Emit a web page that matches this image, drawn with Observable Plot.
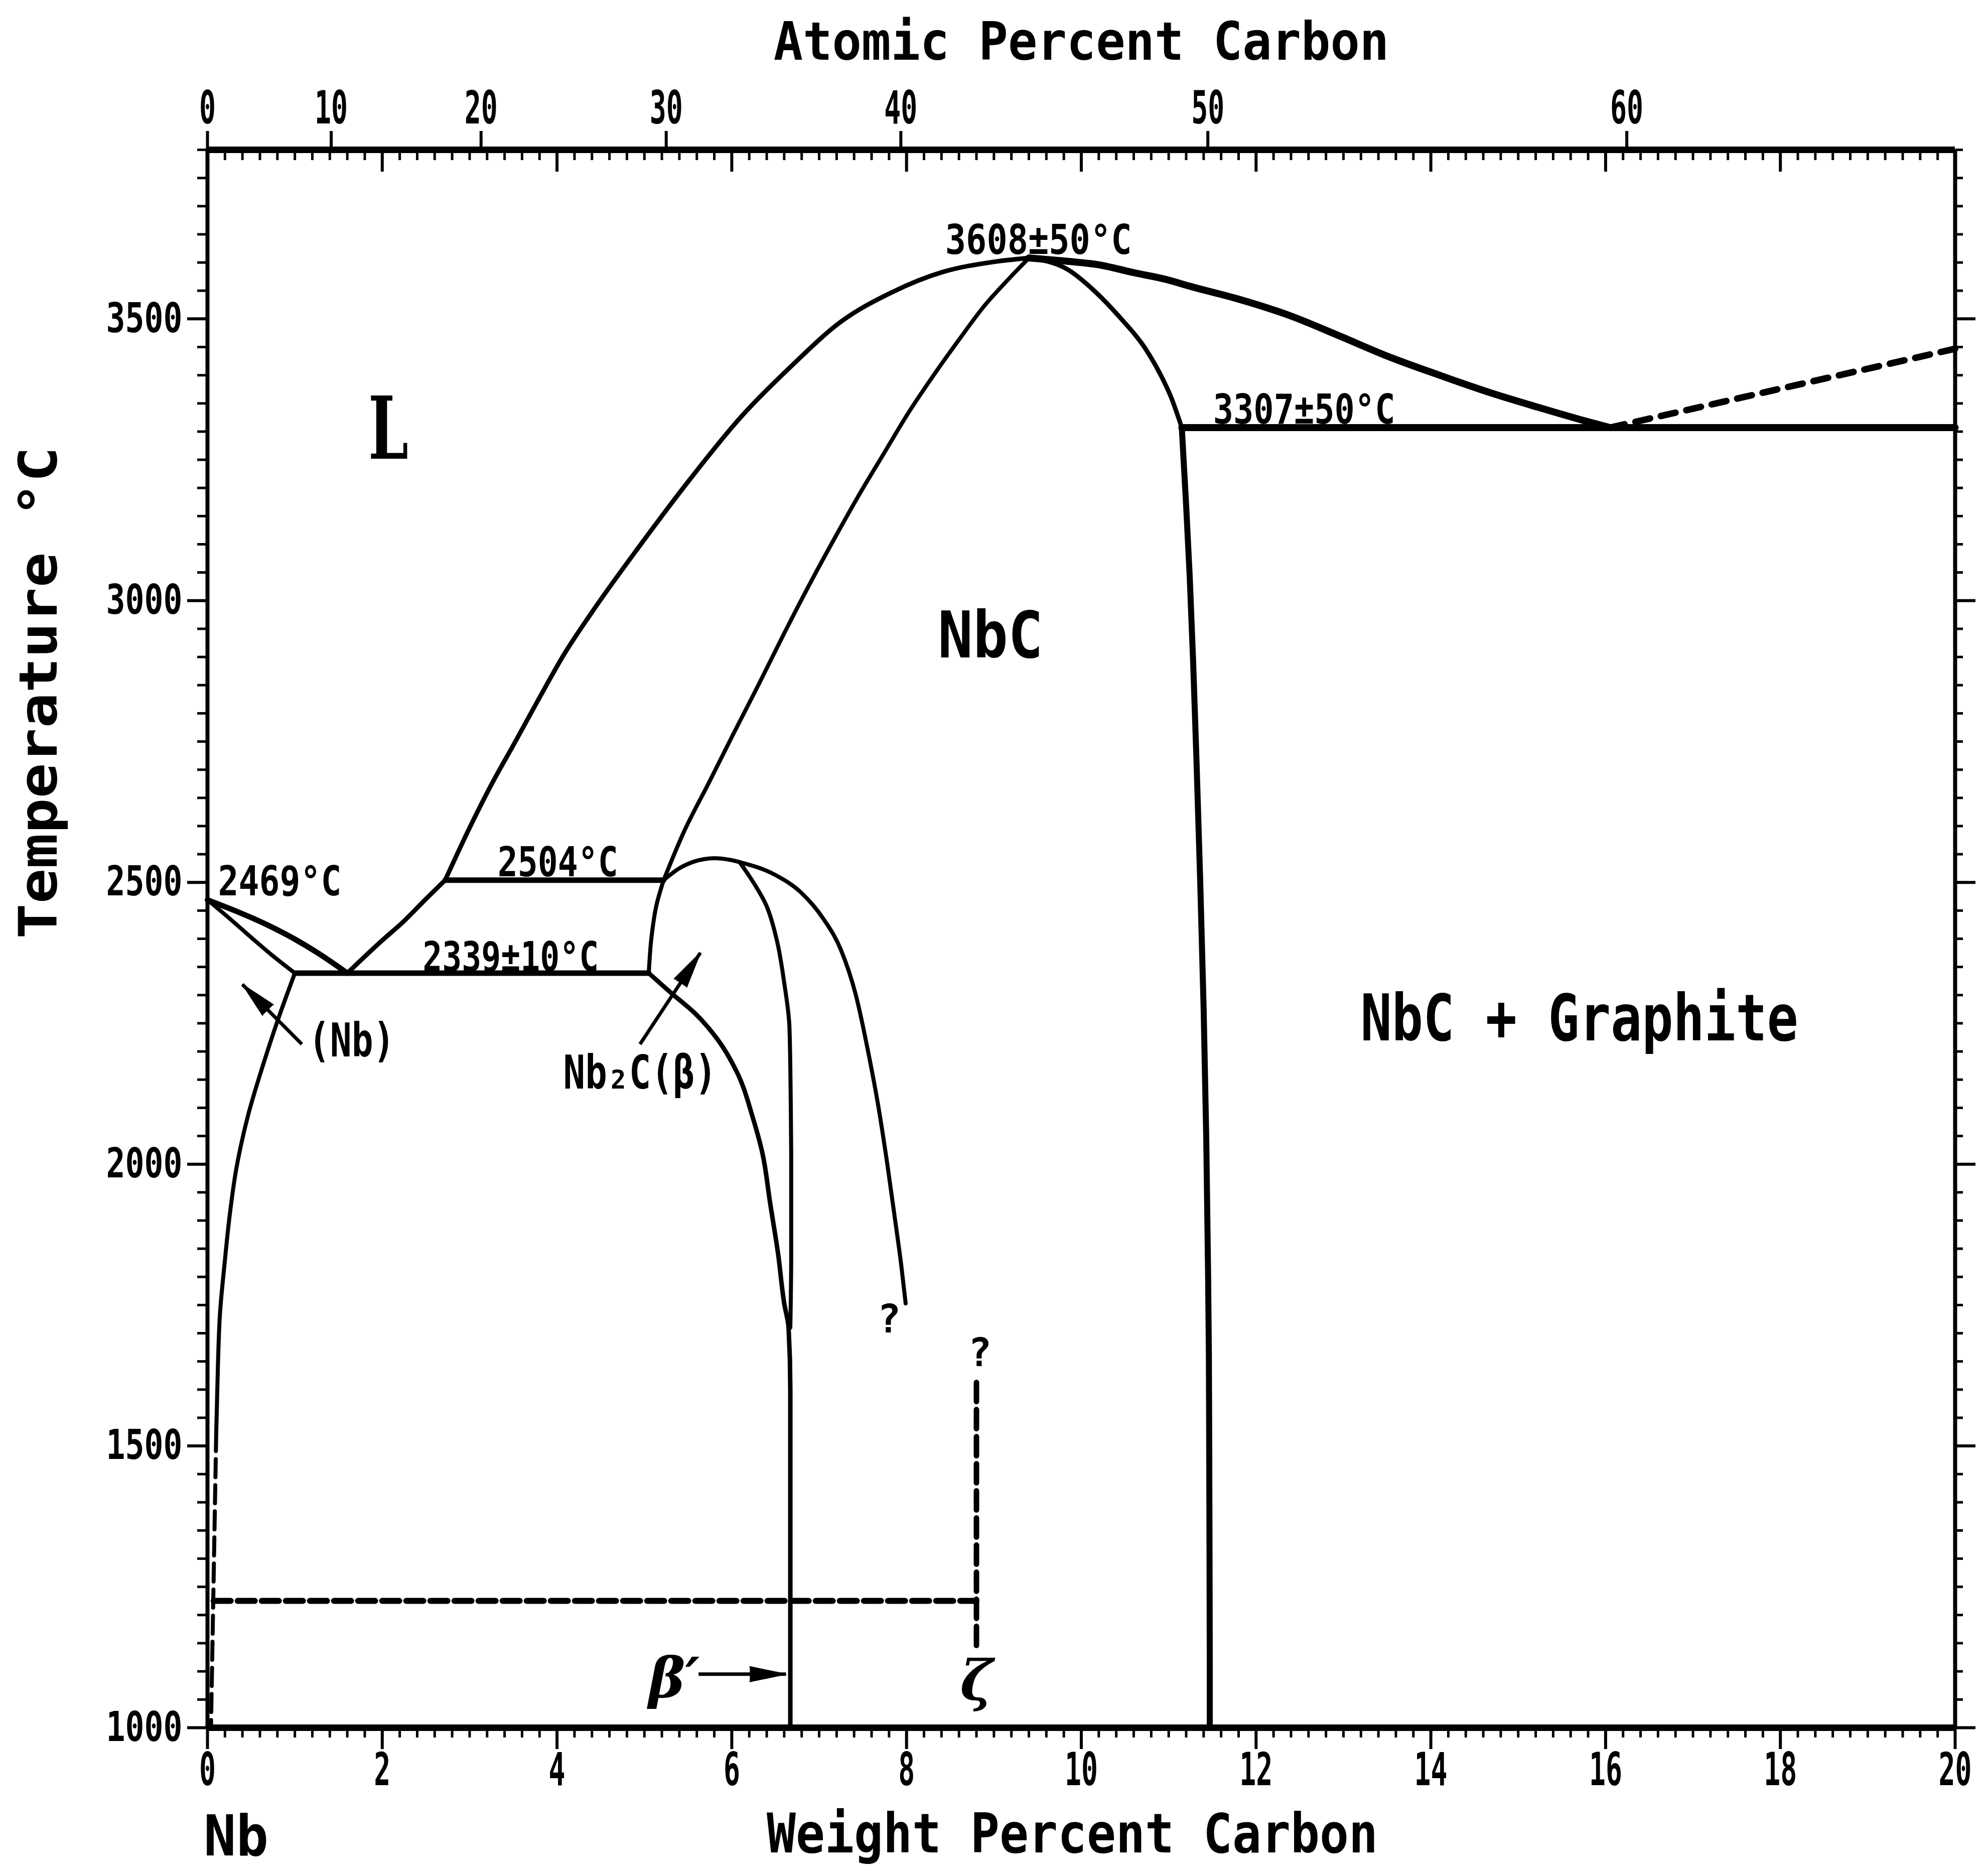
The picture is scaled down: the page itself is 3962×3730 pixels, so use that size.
<!DOCTYPE html>
<html>
<head>
<meta charset="utf-8">
<script src="https://cdn.jsdelivr.net/npm/d3@7"></script>
<script src="https://cdn.jsdelivr.net/npm/@observablehq/plot@0.6"></script>
<style>
  body { margin: 0; background: #fff; }
  svg { display: block; }
</style>
</head>
<body>
<div id="chart"></div>
<script>
// Nb–C phase diagram: weight percent carbon (x) against temperature in °C (y).
// Each boundary is a list of [wt% C, °C] points.

const nbLiquidus = [[0, 2469], [0.39, 2445], [0.68, 2425], [0.98, 2401], [1.27, 2374], [1.6, 2339]];
const nbSolidus = [[0, 2469], [0.275, 2433], [0.51, 2401], [0.745, 2370], [1.0, 2339]];
const nbSolvus = [[1.0, 2339], [0.81, 2258], [0.64, 2178], [0.47, 2090], [0.33, 1992], [0.25, 1904],
  [0.196, 1824], [0.143, 1735], [0.12, 1646], [0.1, 1523]];
const nbSolvusDashed = [[0.1, 1523], [0.04, 1000]];
const eutecticLow = [[1.0, 2339], [5.05, 2339]];
const peritectic = [[2.72, 2504], [5.22, 2504]];
const liquidusLow = [[1.6, 2339], [1.97, 2393], [2.26, 2433], [2.49, 2469], [2.72, 2504]];
const liquidusLeft = [[2.72, 2504], [3.0, 2597], [3.23, 2668], [3.52, 2749], [3.8, 2828], [4.09, 2907],
  [4.38, 2975], [4.95, 3098], [5.53, 3217], [6.1, 3325], [6.68, 3416], [7.25, 3495], [7.83, 3547],
  [8.41, 3583], [8.99, 3601], [9.4, 3608]];
const liquidusRight = [[9.4, 3608], [9.85, 3602], [10.2, 3596], [10.6, 3582], [10.97, 3570], [11.24, 3558],
  [11.8, 3535], [12.4, 3505], [12.95, 3470], [13.5, 3434], [14.1, 3400], [14.66, 3370], [15.23, 3343],
  [15.74, 3320], [16.05, 3307]];
const liquidusGraphite = [[16.05, 3307], [20, 3447]];
const eutecticHigh = [[11.15, 3307], [20, 3307]];
const nbcSolidusLeft = [[5.22, 2504], [5.45, 2589], [5.735, 2676], [6.02, 2764], [6.31, 2852], [6.59, 2939],
  [6.88, 3026], [7.16, 3106], [7.45, 3186], [7.74, 3261], [8.02, 3333], [8.31, 3400], [8.6, 3463],
  [8.89, 3523], [9.17, 3571], [9.4, 3608]];
const nbcSolidusRight = [[9.4, 3608], [9.85, 3587], [10.14, 3551], [10.44, 3503], [10.73, 3448],
  [10.91, 3400], [11.03, 3360], [11.15, 3307]];
const nbcBoundary = [[11.15, 3307], [11.2, 3168], [11.24, 3045], [11.28, 2891], [11.32, 2707], [11.36, 2506],
  [11.4, 2276], [11.43, 2045], [11.45, 1815], [11.46, 1661], [11.465, 1430], [11.47, 1123], [11.47, 1000]];
const betaLeft = [[5.05, 2339], [5.08, 2401], [5.14, 2461], [5.22, 2504]];
const betaDome = [[5.22, 2504], [5.4, 2525], [5.57, 2537], [5.8, 2543], [5.98, 2540], [6.09, 2536],
  [6.5, 2513], [6.8, 2481], [7.05, 2435], [7.25, 2380], [7.42, 2300], [7.56, 2200], [7.68, 2100],
  [7.78, 2000], [7.87, 1900], [7.94, 1820], [7.99, 1753]];
const betaInner = [[6.09, 2536], [6.21, 2509], [6.39, 2461], [6.51, 2401], [6.6, 2322], [6.66, 2243],
  [6.675, 2107], [6.68, 2020], [6.68, 1841], [6.67, 1710]];
const betaSolvus = [[5.05, 2339], [5.29, 2306], [5.59, 2266], [5.83, 2223], [6.06, 2163], [6.24, 2083],
  [6.35, 2020], [6.44, 1930], [6.53, 1841], [6.6, 1753], [6.65, 1710], [6.67, 1600], [6.67, 1000]];
const transition1225 = [[0.07, 1225], [8.8, 1225]];
const zetaBoundary = [[8.8, 1146], [8.8, 1620]];

// Annotations
const tempLabels = [
  {text: "2504°C", x: 4.01, y: 2511},
  {text: "2339±10°C", x: 3.47, y: 2343},
  {text: "3608±50°C", x: 9.51, y: 3615},
  {text: "3307±50°C", x: 12.55, y: 3314}
];
const nbMeltLabel = [{text: "2469°C", x: 0.12, y: 2477}];
const phaseLabels = [
  {text: "NbC", x: 8.96, y: 2899},
  {text: "NbC + Graphite", x: 15.7, y: 2220}
];
const smallPhaseLabels = [
  {text: "(Nb)", x: 1.65, y: 2191},
  {text: "Nb₂C(β)", x: 4.95, y: 2134}
];
const liquidLabel = [{text: "L", x: 2.07, y: 3252}];
const greekLabels = [
  {text: "β′", x: 5.34, y: 1085},
  {text: "ζ", x: 8.8, y: 1081}
];
const queryLabels = [
  {text: "?", x: 7.8, y: 1724},
  {text: "?", x: 8.84, y: 1664}
];
const arrows = [
  {x1: 1.08, y1: 2213, x2: 0.40, y2: 2319},
  {x1: 4.95, y1: 2213, x2: 5.64, y2: 2375},
  {x1: 5.62, y1: 1095, x2: 6.62, y2: 1095}
];

// Axes
const wtDomain = [0, 20];
const tempDomain = [1000, 3800];
const wtTicks = [0, 2, 4, 6, 8, 10, 12, 14, 16, 18, 20];
const wtMinorStep = 0.2;
const tempTicks = [1000, 1500, 2000, 2500, 3000, 3500];
const tempMinorStep = 50;
const atomicTicks = [0, 10, 20, 30, 40, 50, 60];
const massC = 12.011, massNb = 92.906;
const atToWt = a => 100 * a * massC / (a * massC + (100 - a) * massNb);

const wtMinor = d3.range(0, 20 + 1e-9, wtMinorStep);
const tempMinor = d3.range(1000, 3800 + 1e-9, tempMinorStep);
const atomicPos = atomicTicks.map(atToWt);
const atomicLabel = new Map(atomicPos.map((p, i) => [p, String(atomicTicks[i])]));

// Page layout
const W = 3962, H = 3730;
const margin = {left: 413, right: 66, top: 298, bottom: 288};
const kx = (W - margin.left - margin.right) / (wtDomain[1] - wtDomain[0]);
const ky = (H - margin.top - margin.bottom) / (tempDomain[1] - tempDomain[0]);
// on-screen heading of an arrow, degrees clockwise from up
const heading = d => Math.atan2((d.x2 - d.x1) * kx, (d.y2 - d.y1) * ky) * 180 / Math.PI;

const mono = "'DejaVu Sans Mono', 'Liberation Mono', monospace";
const serif = "'DejaVu Serif', 'Liberation Serif', serif";
const X = d => d[0], Y = d => d[1];
const blank = () => "";

function curve(data, width, shape, extra = {}) {
  return Plot.line(data, {x: X, y: Y, stroke: "black", strokeWidth: width, curve: shape,
    strokeLinejoin: "round", strokeLinecap: "round", ...extra});
}
function straight(data, width, extra = {}) {
  return Plot.line(data, {x: X, y: Y, stroke: "black", strokeWidth: width, curve: "linear", ...extra});
}

const plot = Plot.plot({
  width: W,
  height: H,
  marginLeft: margin.left,
  marginRight: margin.right,
  marginTop: margin.top,
  marginBottom: margin.bottom,
  x: {domain: wtDomain},
  y: {domain: tempDomain},
  style: {background: "white", color: "black", fontFamily: mono, fontSize: "90px", fontWeight: "bold", overflow: "visible"},
  marks: [
    // phase boundaries
    curve(nbLiquidus, 11, "monotone-x"),
    curve(nbSolidus, 8, "monotone-x"),
    curve(nbSolvus, 8, "monotone-y"),
    straight(nbSolvusDashed, 8, {strokeDasharray: "36,16"}),
    straight(eutecticLow, 11),
    straight(peritectic, 11),
    curve(liquidusLow, 9, "monotone-x"),
    curve(liquidusLeft, 9, "monotone-x"),
    curve(liquidusRight, 14, "monotone-x"),
    straight(liquidusGraphite, 13, {strokeDasharray: "30,22"}),
    straight(eutecticHigh, 14),
    curve(nbcSolidusLeft, 8, "monotone-x"),
    curve(nbcSolidusRight, 9, "monotone-x"),
    curve(nbcBoundary, 12, "monotone-y"),
    curve(betaLeft, 8, "monotone-y"),
    curve(betaDome, 8, "monotone-x"),
    curve(betaInner, 8, "monotone-y"),
    curve(betaSolvus, 9, "monotone-y"),
    straight(transition1225, 12, {strokeDasharray: "34,14"}),
    straight(zetaBoundary, 11, {strokeDasharray: "38,16"}),

    // frame
    Plot.ruleY(tempDomain, {strokeWidth: 13}),
    Plot.ruleX(wtDomain, {strokeWidth: 8}),

    // bottom axis: weight percent
    Plot.axisX({anchor: "bottom", ticks: wtTicks, tickSize: 43, tickPadding: 8, strokeWidth: 6, label: null, fontSize: 90}),
    Plot.axisX({anchor: "bottom", ticks: wtMinor, tickSize: 20, strokeWidth: 5, tickFormat: blank, label: null}),
    // top axis: atomic percent outside, weight percent ticks inside
    Plot.axisX({anchor: "top", ticks: atomicPos, tickFormat: d => atomicLabel.get(d), tickSize: 38, tickPadding: 15,
      strokeWidth: 6, label: null, fontSize: 90}),
    Plot.axisX({anchor: "top", ticks: wtTicks, tickSize: -43, strokeWidth: 6, tickFormat: blank, label: null}),
    Plot.axisX({anchor: "top", ticks: wtMinor, tickSize: -20, strokeWidth: 5, tickFormat: blank, label: null}),
    // left and right temperature axes
    Plot.axisY({anchor: "left", ticks: tempTicks, tickSize: 40, tickPadding: 10, strokeWidth: 6, label: null,
      tickFormat: d => String(d), fontSize: 82}),
    Plot.axisY({anchor: "left", ticks: tempMinor, tickSize: 20, strokeWidth: 5, tickFormat: blank, label: null}),
    Plot.axisY({anchor: "right", ticks: tempTicks, tickSize: 40, strokeWidth: 6, tickFormat: blank, label: null}),
    Plot.axisY({anchor: "right", ticks: tempMinor, tickSize: 15, strokeWidth: 5, tickFormat: blank, label: null}),

    // axis titles
    Plot.text(["Atomic Percent Carbon"], {frameAnchor: "top", dy: -180, lineAnchor: "bottom", fontSize: 105}),
    Plot.text(["Weight Percent Carbon"], {frameAnchor: "bottom", dx: -18, dy: 248, lineAnchor: "bottom", fontSize: 108}),
    Plot.text(["Nb"], {frameAnchor: "bottom-left", dx: 57, dy: 254, lineAnchor: "bottom", textAnchor: "middle", fontSize: 112}),
    Plot.text(["Temperature °C"], {frameAnchor: "left", dx: -301, rotate: -90, lineAnchor: "bottom", fontSize: 105}),

    // annotation arrows: shaft plus a solid head
    Plot.link(arrows, {x1: "x1", y1: "y1", x2: "x2", y2: "y2", strokeWidth: 7}),
    Plot.vector(arrows, {x: "x2", y: "y2", rotate: heading, length: 72, anchor: "end", shape: "spike", r: 15,
      fill: "black", fillOpacity: 1, stroke: "black", strokeWidth: 2}),

    // annotation text
    Plot.text(tempLabels, {x: "x", y: "y", text: "text", lineAnchor: "bottom", textAnchor: "middle", fontSize: 82}),
    Plot.text(nbMeltLabel, {x: "x", y: "y", text: "text", lineAnchor: "bottom", textAnchor: "start", fontSize: 82}),
    Plot.text(phaseLabels, {x: "x", y: "y", text: "text", lineAnchor: "bottom", textAnchor: "middle", fontSize: 128}),
    Plot.text(smallPhaseLabels, {x: "x", y: "y", text: "text", lineAnchor: "bottom", textAnchor: "middle", fontSize: 92}),
    Plot.text(liquidLabel, {x: "x", y: "y", text: "text", lineAnchor: "bottom", textAnchor: "middle", fontSize: 172,
      fontFamily: serif, fontWeight: "bold"}),
    Plot.text(greekLabels, {x: "x", y: "y", text: "text", lineAnchor: "middle", textAnchor: "middle", fontSize: 110,
      fontFamily: serif, fontStyle: "italic", fontWeight: "bold"}),
    Plot.text(queryLabels, {x: "x", y: "y", text: "text", lineAnchor: "middle", textAnchor: "middle", fontSize: 78})
  ]
});

document.getElementById("chart").append(plot);

// Typewriter lettering is narrower than the screen font: fit each string to its advance width.
const labelAdvance = new Map([
  ["Atomic Percent Carbon", 58.4], ["Weight Percent Carbon", 58], ["Temperature °C", 70], ["Nb", 64.5],
  ["2469°C", 41], ["2504°C", 40], ["2339±10°C", 39], ["3608±50°C", 41.3], ["3307±50°C", 40.3],
  ["NbC", 70], ["NbC + Graphite", 62.3], ["(Nb)", 43], ["Nb₂C(β)", 43.7], ["L", 80]
]);
plot.querySelectorAll("text").forEach(t => {
  const s = t.textContent;
  if (!s) return;
  let adv = labelAdvance.get(s);
  if (adv == null && /^\d+$/.test(s)) adv = s.length === 4 ? 38 : 33;
  if (adv == null) return;
  t.setAttribute("textLength", adv * [...s].length);
  t.setAttribute("lengthAdjust", "spacingAndGlyphs");
});
</script>
</body>
</html>
